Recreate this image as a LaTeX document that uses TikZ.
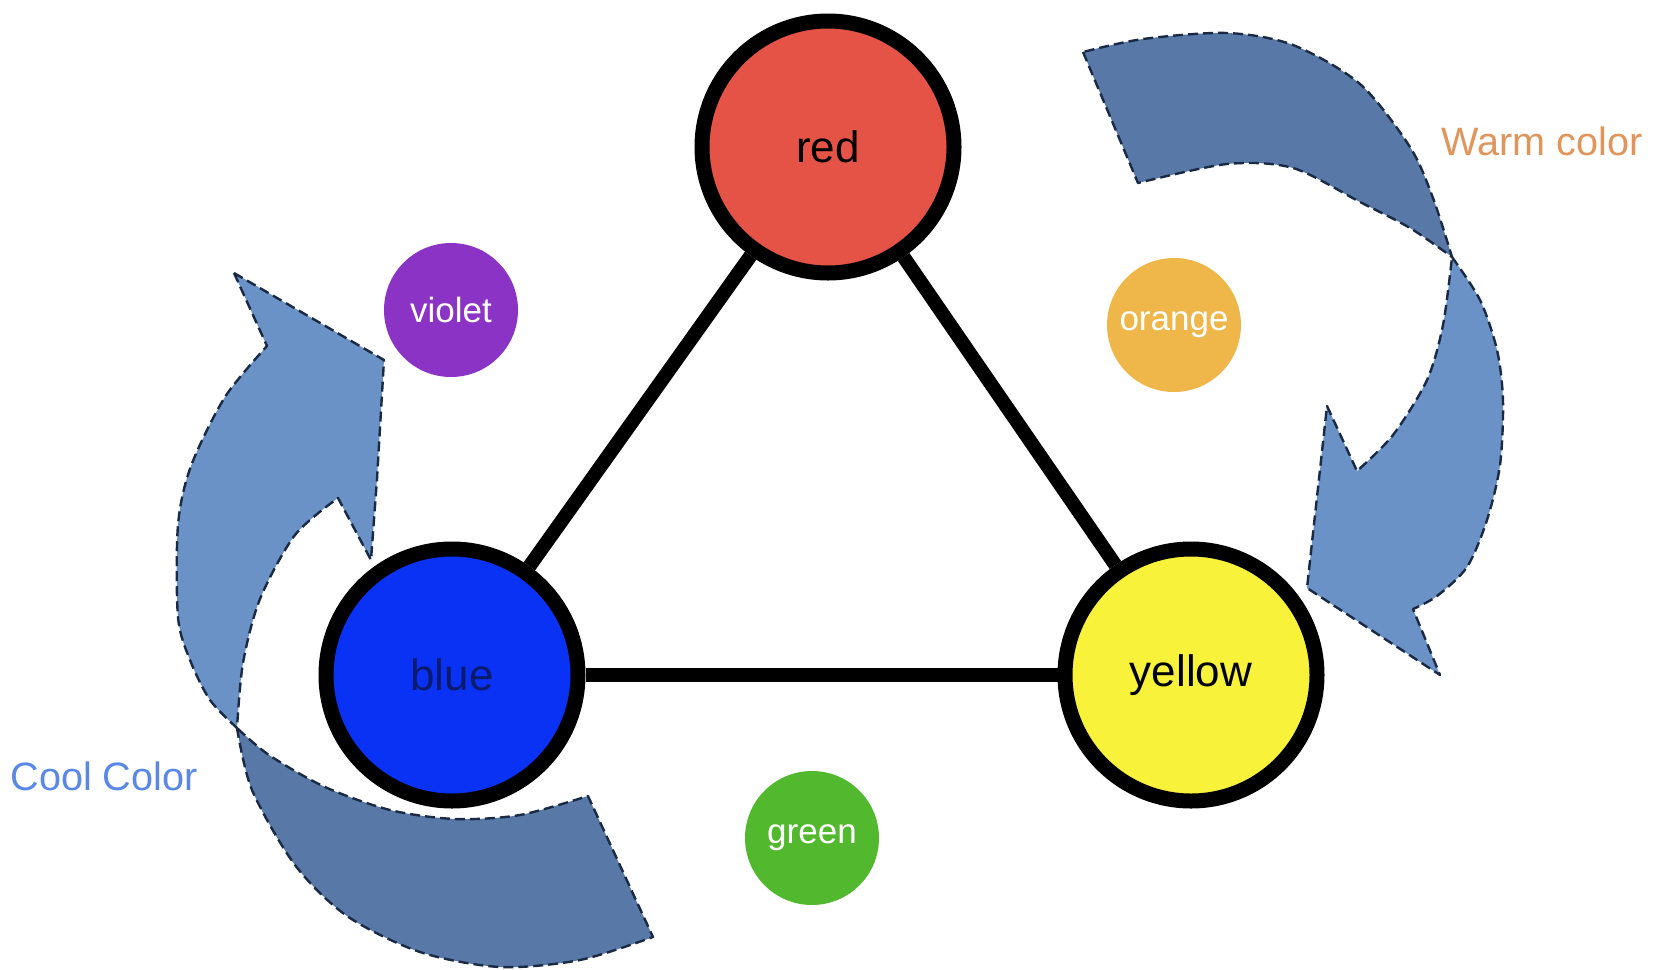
\documentclass[tikz,border=0pt]{standalone}
\usepackage{fontspec}
\setmainfont{Liberation Sans}
\usetikzlibrary{positioning}
\definecolor{cred}{HTML}{E55346}
\definecolor{cblue}{HTML}{0A32F5}
\definecolor{cyel}{HTML}{F8F23A}
\definecolor{cvio}{HTML}{8A33C4}
\definecolor{cora}{HTML}{EFB64A}
\definecolor{cgrn}{HTML}{52B82E}
\definecolor{adark}{HTML}{5879A8}
\definecolor{alight}{HTML}{6A92C7}
\definecolor{warm}{HTML}{E0955C}
\definecolor{cool}{HTML}{5A88E6}
\definecolor{edge}{HTML}{1B2A44}
\definecolor{bluetxt}{HTML}{0B1B6B}

\begin{document}
\begin{tikzpicture}[x=0.5pt,y=-0.5pt]
\tikzstyle{big}=[circle,draw=black,line width=7.5pt,minimum size=126pt,inner sep=0pt,font=\fontsize{22}{26}\selectfont]
\tikzstyle{small}=[circle,minimum size=67pt,inner sep=0pt,text=white,font=\fontsize{17.5}{21}\selectfont]
\tikzstyle{band}=[draw=edge,line width=1.2pt,dash pattern=on 5pt off 2.5pt,line join=round]
\useasboundingbox (0,0) rectangle (1667,970);
% warm arrow, twisted ribbon
\path[band,fill=adark] (1083,52) -- (1138,183)
  -- plot[smooth] coordinates {(1138,183) (1227,164) (1293,168) (1360,202) (1410,228) (1452,257)}
  -- plot[smooth] coordinates {(1452,257) (1433,198) (1410,147) (1360,84) (1293,45) (1227,33) (1143,39) (1083,52)}
  -- cycle;
\path[band,fill=alight]
  plot[smooth] coordinates {(1452,257) (1480,300) (1497,350) (1503,401) (1500,465) (1487,520) (1467,567) (1437,596) (1413,609)}
  -- (1440,675) -- (1307,588) -- (1327,406) -- (1357,471)
  -- plot[smooth] coordinates {(1357,471) (1393,435) (1427,380) (1443,325) (1452,257)}
  -- cycle;
% cool arrow
\path[band,fill=alight] (234,273) -- (384,360) -- (377,479) -- (371,560) -- (338,498)
  -- plot[smooth] coordinates {(338,498) (295,535) (260,599) (243,663) (237,728)}
  -- plot[smooth] coordinates {(237,728) (210,700) (190,660) (178,617) (178,525) (191,466) (225,397) (267,346)}
  -- cycle;
\path[band,fill=adark]
  plot[smooth] coordinates {(237,728) (252,790) (295,865) (347,916) (420,952) (500,967) (580,960) (653,937)}
  -- (588,796)
  -- plot[smooth] coordinates {(588,796) (520,815) (455,819) (390,810) (325,787) (269,755) (237,728)}
  -- cycle;
% primaries
\node[big,fill=cred] (red) at (828,147) {red};
\node[big,fill=cblue,text=bluetxt] (blue) at (452,675) {blue};
\node[big,fill=cyel] (yellow) at (1191,675) {yellow};
\draw[line width=7pt] (red) -- (blue);
\draw[line width=7pt] (red) -- (yellow);
\draw[line width=7pt] (blue) -- (yellow);
% secondaries
\node[small,fill=cvio] (violet) at (451,310) {violet};
\node[small,fill=cora] (orange) at (1174,325) {orange};
\node[small,fill=cgrn] (green) at (812,838) {green};
\node[text=warm,font=\fontsize{19.8}{24}\selectfont] (warmlbl) at (1542,141) {Warm color};
\node[text=cool,font=\fontsize{19.8}{24}\selectfont] (coollbl) at (104,776) {Cool Color};
\end{tikzpicture}
\end{document}
